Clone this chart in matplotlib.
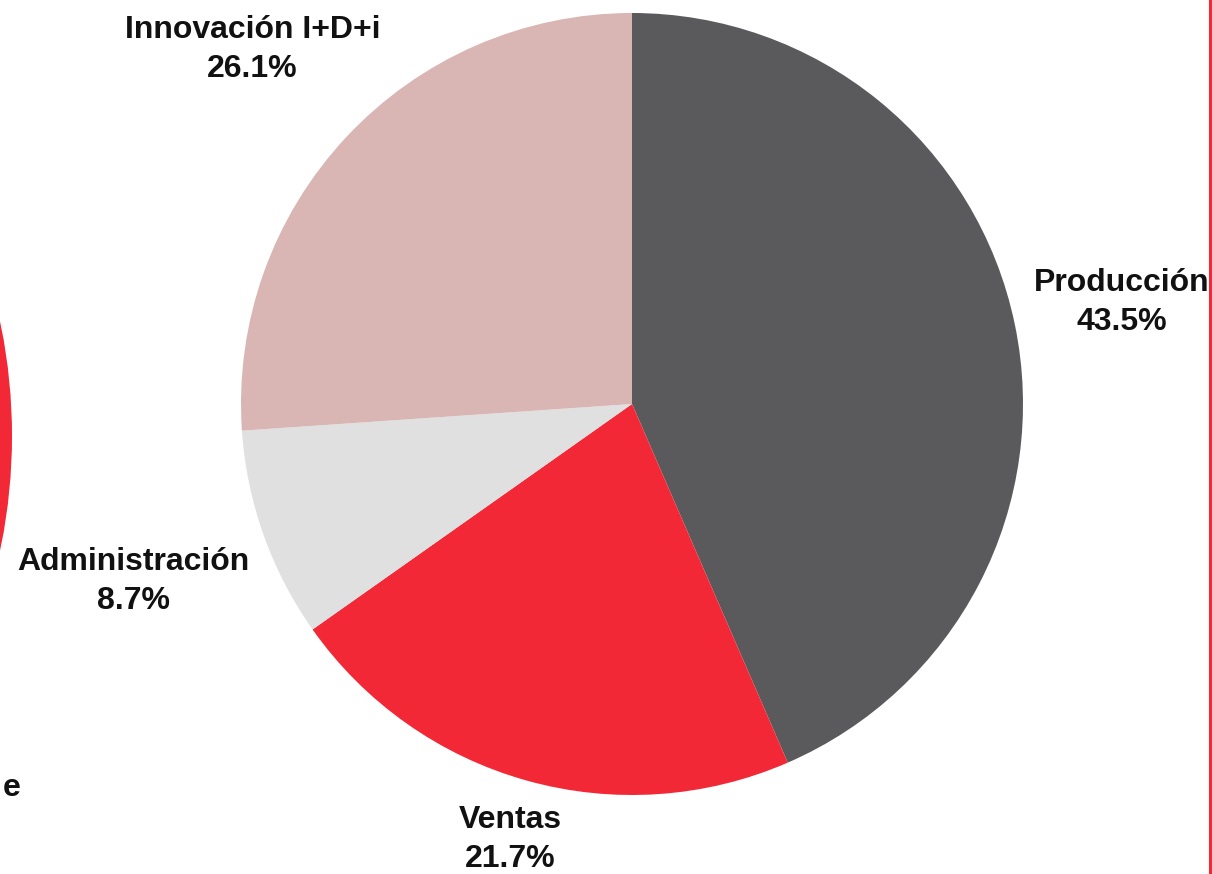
import matplotlib.pyplot as plt
import numpy as np
from matplotlib.patches import Circle
from matplotlib.lines import Line2D

plt.rcParams['font.family'] = ['Liberation Sans', 'DejaVu Sans']

categories = ['Producción', 'Ventas', 'Administración', 'Innovación I+D+i']
values = [10, 5, 2, 6]
colors = ['#5a5a5c', '#f22837', '#e0e0e0', '#d9b5b4']

# label distance from centre, in pie radii (style only)
label_r = [1.28, 1.157, 1.353, 1.328]

W, H = 1212, 874
fig = plt.figure(figsize=(W / 100, H / 100), dpi=100)
ax = fig.add_axes([0, 0, 1, 1])

cx, cy, R = 632, H - 404, 391

# neighbouring chart cut off at the left edge
ax.add_patch(Circle((-545, H - 436), 557, color='#f22837', lw=0))
ax.text(21, H - 788, 'e', ha='right', va='center', fontsize=23,
        fontweight='bold', color='#111111')

ax.pie(values, colors=colors, startangle=90, counterclock=False,
       center=(cx, cy), radius=R, wedgeprops=dict(linewidth=0),
       frame=True)
ax.set_xlim(0, W)
ax.set_ylim(0, H)
ax.set_aspect('equal')
ax.axis('off')

total = sum(values)
pct = [v / total * 100 for v in values]
start = 90.0
for name, p, r in zip(categories, pct, label_r):
    mid = np.radians(start - p * 3.6 / 2)
    start -= p * 3.6
    x = cx + r * R * np.cos(mid)
    y = cy + r * R * np.sin(mid)
    ax.text(x, y, '{}\n{:.1f}%'.format(name, p), ha='center', va='center',
            fontsize=23, fontweight='bold', color='#111111',
            linespacing=1.4)

fig.add_artist(Line2D([1209.5 / W, 1209.5 / W], [0, 1], color='#f22837',
                      lw=2.2, transform=fig.transFigure))

fig.savefig('out.png', dpi=100)
